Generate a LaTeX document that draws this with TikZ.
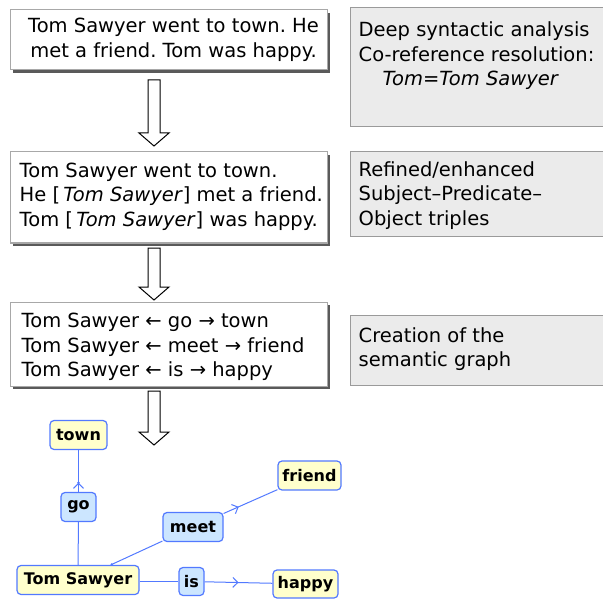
\documentclass[tikz,border=0pt]{standalone}
\usepackage{fontspec}
\setmainfont{DejaVu Sans}
\usetikzlibrary{arrows.meta,decorations.markings,shadows,calc}
\definecolor{gborder}{HTML}{5279FF}
\definecolor{ynodefill}{HTML}{FFFFCC}
\definecolor{bnodefill}{HTML}{CCE6FF}
\definecolor{notefill}{HTML}{EBEBEB}
\definecolor{notedraw}{HTML}{9A9A9A}
\definecolor{shadowc}{HTML}{5A5A5A}
\definecolor{boxdraw}{HTML}{A8A8A8}
\tikzset{
  mainbox/.style={draw=boxdraw, fill=white, line width=1pt,
    drop shadow={shadow xshift=3pt, shadow yshift=-3pt, fill=shadowc, opacity=1},
    inner sep=0pt},
  notebox/.style={draw=notedraw, fill=notefill, line width=1pt, inner sep=0pt},
  boxtext/.style={inner sep=0pt, align=left, anchor=west},
  hollow/.style={draw=black, fill=white, line width=1pt},
  gnode/.style={draw=gborder, line width=1.2pt, rounded corners=4pt,
    font=\fontsize{16}{17}\selectfont\bfseries, minimum height=29pt, inner xsep=2pt},
  ynode/.style={gnode, fill=ynodefill},
  bnode/.style={gnode, fill=bnodefill},
  gedge/.style={draw=gborder, line width=1pt},
  arrowat/.style={postaction={decorate, decoration={markings,
    mark=at position #1 with {\arrow[gborder,line width=1pt]{Straight Barb[length=5pt,width=10pt]}}}}},
  dotat/.style={postaction={decorate, decoration={markings,
    mark=at position #1 with {\fill[gborder] (0,0) circle (1.3pt);}}}},
}
\newcommand{\hollowarrow}[2]{%
  \draw[hollow] let \p1=(#1), \p2=(#2) in
    (\x1-6pt,\y1) -- (\x1+6pt,\y1) -- (\x1+6pt,\y2+13pt) -- (\x1+15pt,\y2+13pt)
    -- (\x2,\y2) -- (\x1-15pt,\y2+13pt) -- (\x1-6pt,\y2+13pt) -- cycle;}
\begin{document}
\begin{tikzpicture}[x=1pt,y=-1pt, font=\fontsize{19.5}{24.5}\selectfont\frenchspacing]
\useasboundingbox (0,0) rectangle (603,599);

% main boxes
\node[mainbox, minimum width=317, minimum height=60] (b1) at (168.5,40) {};
\node[inner sep=0pt, align=center] (t1) at ($(b1.center)+(5,0)$)
  {Tom Sawyer went to town. He\\ met a friend. Tom was happy.};
\node[mainbox, minimum width=317, minimum height=91] (b2) at (168.5,197.5) {};
\node[boxtext] (t2) at ($(b2.west)+(10,-1)$)
  {Tom Sawyer went to town.\\ He [\,\textit{Tom Sawyer}] met a friend.\\ Tom [\,\textit{Tom Sawyer}] was happy.};
\node[mainbox, minimum width=317, minimum height=84] (b3) at (168.5,344) {};
\node[boxtext] (t3) at ($(b3.west)+(12,3)$)
  {Tom Sawyer ← go → town\\ Tom Sawyer ← meet → friend\\ Tom Sawyer ← is → happy};

% note boxes
\node[notebox, minimum width=270, minimum height=119] (n1) at (485,67.5) {};
\node[boxtext, anchor=north west] (m1) at ($(n1.north west)+(9,14)$)
  {Deep syntactic analysis\\ Co-reference resolution:\\ \hspace*{24pt}\textit{Tom=Tom Sawyer}};
\node[notebox, minimum width=270, minimum height=85] (n2) at (485,194.5) {};
\node[boxtext] (m2) at ($(n2.west)+(9,1)$)
  {Refined/enhanced\\ Subject–Predicate–\\ Object triples};
\node[notebox, minimum width=270, minimum height=70] (n3) at (485,350) {};
\node[boxtext] (m3) at ($(n3.west)+(9,-1)$)
  {Creation of the\\ semantic graph};

% hollow arrows
\coordinate (a1s) at (154,80);  \coordinate (a1e) at (154,146);
\coordinate (a2s) at (154,248); \coordinate (a2e) at (154,300);
\coordinate (a3s) at (154,391); \coordinate (a3e) at (154,445);
\hollowarrow{a1s}{a1e}
\hollowarrow{a2s}{a2e}
\hollowarrow{a3s}{a3e}

% semantic graph
\node[ynode, minimum width=57] (town) at (78.5,435) {town};
\node[bnode, minimum width=35] (go) at (78.5,507) {go};
\node[ynode, minimum width=63] (friend) at (309.5,475.5) {friend};
\node[bnode, minimum width=60] (meet) at (193,527) {meet};
\node[ynode, minimum width=122] (tom) at (78,580) {Tom Sawyer};
\node[bnode, minimum width=25, minimum height=28] (is) at (191.5,581.5) {is};
\node[ynode, minimum width=65, minimum height=28] (happy) at (305.5,584) {happy};

\draw[gedge] (tom) -- (go);
\draw[gedge, arrowat=0.22, dotat=0.22] (go) -- (town);
\draw[gedge, dotat=0.02] (tom) -- (meet);
\draw[gedge, arrowat=0.28] (meet) -- (friend);
\draw[gedge] (tom.east |- is.west) -- (is.west);
\draw[gedge, arrowat=0.5] (is) -- (happy);
\end{tikzpicture}
\end{document}
